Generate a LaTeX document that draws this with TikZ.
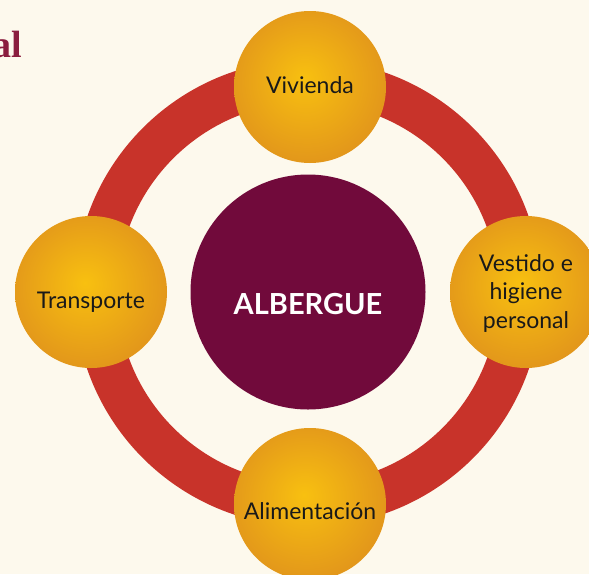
\documentclass[tikz,border=0pt]{standalone}
\usepackage{fontspec}
\setmainfont{Lato}
\newfontfamily\headfont{Liberation Serif}
\definecolor{cream}{HTML}{FDF9ED}
\definecolor{ringred}{HTML}{C8332A}
\definecolor{hubmaroon}{HTML}{710A3B}
\definecolor{headred}{HTML}{8B1E3F}
\definecolor{orbhi}{HTML}{F8C010}
\definecolor{orblo}{HTML}{E2961B}
\pgfdeclareradialshading{orbshade}{\pgfpoint{-2bp}{3bp}}{color(0bp)=(orbhi);color(27bp)=(orblo);color(50bp)=(orblo)}
\tikzset {
    ring/.style = {draw = ringred, line width = 43pt},
    hub/.style = {circle, fill = hubmaroon, text = white, minimum size = 235pt,
        inner sep = 0pt, font = \fontsize{29}{34}\selectfont\bfseries},
    orb/.style = {circle, shade, shading = orbshade, minimum size = 152pt,
        inner sep = 0pt, align = center, text = black!90,
        font = \fontsize{23}{28.5}\selectfont},
    drop/.style = {text height = #1, text depth = 0pt},
    heading/.style = {text = headred, inner sep = 0pt,
        font = \headfont\fontsize{38}{40}\selectfont\bfseries}
}

\begin{document}
\begin{tikzpicture}[x = 1pt, y = -1pt]
        \useasboundingbox (0, 0) rectangle (589, 574);
        \fill [cream] (0, 0) rectangle (589, 574);
        \node [heading, anchor = base east] (title) at (22, 57) {al};
        % ring behind everything
        \coordinate (o) at (308, 293);
        \draw [ring] (o) circle [radius = 212];
        \node [hub, drop = 44pt] (albergue) at (308, 292) {ALBERGUE};
        \node [orb, drop = 12pt] (vivienda) at (310, 87) {Vivienda};
        \node [orb, drop = 72pt] (vestido) at (526, 292) {Vestido e\\higiene\\personal};
        \node [orb, drop = 30pt] (alimentacion) at (310, 504) {Alimentación};
        \node [orb, drop = 32pt] (transporte) at (91, 292) {Transporte};
    \end{tikzpicture}
\end{document}
